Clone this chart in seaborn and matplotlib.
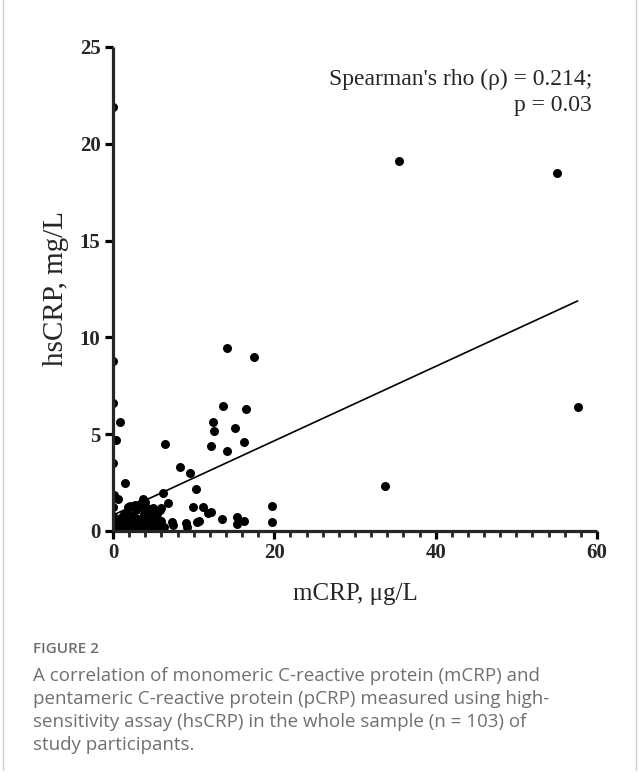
import numpy as np
import pandas as pd
import matplotlib
matplotlib.use("Agg")
import matplotlib.pyplot as plt
from matplotlib.ticker import MultipleLocator
import seaborn as sns

# ---------------- data ----------------
mcrp_main = [0.0, 35.4, 55.0, 57.6, 33.7, 14.1, 17.5, 13.6, 16.5, 12.4, 12.5, 15.1,
             12.1, 14.1, 16.2, 6.4, 8.3, 9.6, 10.3, 0.0, 0.0, 0.9, 0.4, 0.0, 1.5,
             0.1, 0.6, 0.0, 6.2, 3.7, 9.9, 11.1, 11.8, 12.1, 10.4, 10.7, 13.5, 15.4,
             15.4, 16.3, 19.7, 19.7, 9.0, 9.2, 7.3, 7.4, 6.8, 6.0, 1.9, 2.7, 4.2]
hscrp_main = [21.9, 19.1, 18.5, 6.4, 2.3, 9.45, 9.0, 6.46, 6.3, 5.63, 5.17, 5.32,
              4.39, 4.13, 4.6, 4.5, 3.3, 3.0, 2.17, 8.8, 6.6, 5.65, 4.7, 3.5, 2.5,
              1.85, 1.65, 1.24, 1.96, 1.65, 1.24, 1.24, 0.92, 0.98, 0.46, 0.5, 0.62, 0.72,
              0.36, 0.52, 1.29, 0.46, 0.41, 0.21, 0.46, 0.3, 1.45, 1.19, 1.24, 1.34, 1.19]
mcrp_cluster = [0, 0, 0, 0, 0.2, 0.3, 0.5, 0.8, 1.0, 1.2, 1.4, 1.6, 1.8, 2.0, 2.1, 2.3,
                2.5, 2.6, 2.8, 3.0, 3.1, 3.3, 3.4, 3.6, 3.8, 3.9, 4.0, 4.2, 4.3, 4.5,
                4.6, 4.8, 5.0, 5.1, 5.3, 5.5, 5.6, 5.8, 6.0, 6.3, 0.1, 0.4, 1.1, 1.7,
                2.2, 2.9, 3.5, 4.1, 4.7, 5.2, 0.0, 3.2]
hscrp_cluster = [0.3, 0.1, 0.5, 0.8, 0.2, 0.4, 0.1, 0.6, 0.3, 0.05, 0.9, 0.2, 0.5, 0.1,
                 1.3, 0.4, 0.8, 0.2, 1.1, 0.3, 0.6, 0.05, 1.4, 0.5, 0.2, 0.9, 1.5, 0.3,
                 0.7, 1.0, 0.15, 0.4, 1.2, 0.6, 0.1, 0.9, 0.3, 1.1, 0.5, 0.2, 0.15, 0.35,
                 0.7, 1.0, 0.25, 0.45, 0.15, 0.85, 0.6, 0.35, 0.02, 1.25]

x_ticks = [0, 20, 40, 60]
y_ticks = [0, 5, 10, 15, 20, 25]
x_label = "mCRP, \u03bcg/L"
y_label = "hsCRP, mg/L"
stat_text = "Spearman's rho (\u03c1) = 0.214;\np = 0.03"
caption_title = "FIGURE 2"
caption_lines = [
    "A correlation of monomeric C-reactive protein (mCRP) and",
    "pentameric C-reactive protein (pCRP) measured using high-",
    "sensitivity assay (hsCRP) in the whole sample (n = 103) of",
    "study participants.",
]

df = pd.DataFrame({"mCRP": mcrp_main + mcrp_cluster,
                   "hsCRP": hscrp_main + hscrp_cluster})

# ---------------- figure ----------------
sns.set_style("ticks")
plt.rcParams["font.family"] = ["Liberation Serif", "DejaVu Serif"]

W, H = 639, 775
fig = plt.figure(figsize=(W / 100, H / 100), dpi=100)
ax = fig.add_axes([113 / W, 1 - 531 / H, 484 / W, 484 / H])

sns.regplot(data=df, x="mCRP", y="hsCRP", ax=ax, ci=None, truncate=True,
            color="black",
            scatter_kws=dict(s=42, linewidths=0, alpha=1, zorder=3),
            line_kws=dict(lw=1.2, color="black", zorder=2))

ax.set_xlim(0, 60)
ax.set_ylim(0, 25)
ax.set_xticks(x_ticks)
ax.set_yticks(y_ticks)
ax.xaxis.set_minor_locator(MultipleLocator(2))
for s in ["top", "right"]:
    ax.spines[s].set_visible(False)
for s in ["left", "bottom"]:
    ax.spines[s].set_linewidth(2.3)
    ax.spines[s].set_capstyle("butt")
ax.tick_params(axis="both", which="major", length=6, width=2.3, pad=3,
               labelsize=15, color="black")
ax.tick_params(axis="x", which="minor", length=4, width=2.0)
for lab in ax.get_xticklabels() + ax.get_yticklabels():
    lab.set_fontweight("bold")
ax.set_xlabel(x_label, fontsize=18, labelpad=14)
ax.set_ylabel(y_label, fontsize=21, labelpad=8)
for sp in ax.spines.values():
    sp.set_zorder(4)

ax.text(0.99, 0.955, stat_text, transform=ax.transAxes, ha="right", va="top",
        fontsize=17, linespacing=1.3)

# caption
cap_font = ["Open Sans", "DejaVu Sans"]
fig.text(33 / W, 1 - 649 / H, caption_title, fontsize=11, color="#6e6e6e",
         family=cap_font, va="center", ha="left", fontweight="semibold")
for i, line in enumerate(caption_lines):
    fig.text(33 / W, 1 - (676 + i * 23) / H, line, fontsize=13.5, color="#707070",
             family=cap_font, va="center", ha="left")

# card border
fig.add_artist(plt.Line2D([3 / W, 3 / W], [1 - 770 / H, 1], color="#d0d0d0", lw=1))
fig.add_artist(plt.Line2D([636 / W, 636 / W], [1 - 770 / H, 1], color="#d0d0d0", lw=1))

fig.savefig("out.png", dpi=100)
